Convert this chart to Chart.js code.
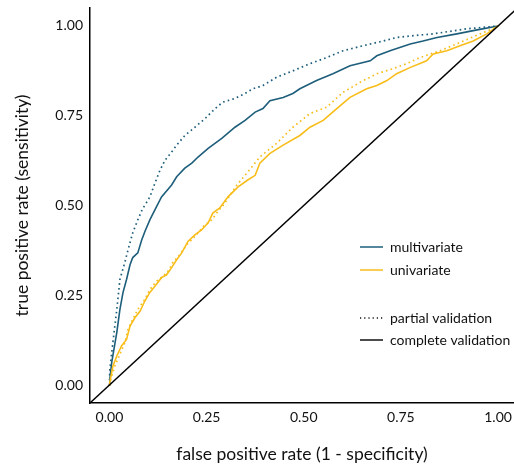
<!DOCTYPE html>
<html>
<head>
<meta charset="utf-8">
<script src="https://cdn.jsdelivr.net/npm/chart.js@4/dist/chart.umd.min.js"></script>
<style>
  html, body { margin: 0; padding: 0; background: #ffffff; overflow: hidden; }
  #wrap { width: 514px; height: 466px; }
</style>
</head>
<body>
<div id="wrap"><canvas id="roc" width="514" height="466"></canvas></div>
<script>
// ROC curves: false positive rate (x) vs true positive rate (y)
const multiCompleteFpr = [0, 0.001, 0.006, 0.019, 0.027, 0.035, 0.044, 0.053, 0.060, 0.073, 0.083, 0.091, 0.104, 0.117, 0.134, 0.160, 0.173, 0.194, 0.212, 0.228, 0.254, 0.289, 0.323, 0.349, 0.375, 0.395, 0.413, 0.447, 0.472, 0.490, 0.533, 0.575, 0.619, 0.671, 0.688, 0.722, 0.774, 0.807, 0.843, 0.894, 0.946, 1];
const multiCompleteTpr = [0, 0.017, 0.064, 0.147, 0.211, 0.258, 0.294, 0.335, 0.355, 0.368, 0.404, 0.427, 0.460, 0.488, 0.524, 0.557, 0.580, 0.604, 0.618, 0.635, 0.659, 0.687, 0.718, 0.737, 0.760, 0.770, 0.792, 0.801, 0.812, 0.825, 0.848, 0.867, 0.889, 0.903, 0.917, 0.931, 0.950, 0.958, 0.968, 0.978, 0.989, 1];

const multiPartialFpr = [0, 0.001, 0.009, 0.019, 0.027, 0.040, 0.048, 0.060, 0.073, 0.086, 0.091, 0.104, 0.117, 0.130, 0.143, 0.160, 0.173, 0.194, 0.220, 0.246, 0.272, 0.292, 0.323, 0.349, 0.369, 0.395, 0.430, 0.472, 0.516, 0.559, 0.601, 0.653, 0.704, 0.739, 0.773, 0.833, 0.919, 0.971, 1];
const multiPartialTpr = [0, 0.044, 0.119, 0.211, 0.294, 0.343, 0.377, 0.424, 0.460, 0.493, 0.500, 0.524, 0.562, 0.598, 0.626, 0.649, 0.668, 0.695, 0.718, 0.742, 0.770, 0.788, 0.798, 0.812, 0.825, 0.834, 0.857, 0.875, 0.895, 0.912, 0.931, 0.945, 0.958, 0.968, 0.972, 0.978, 0.992, 0.997, 1];

const uniCompleteFpr = [0, 0.001, 0.009, 0.019, 0.031, 0.044, 0.053, 0.066, 0.079, 0.091, 0.104, 0.117, 0.134, 0.147, 0.160, 0.173, 0.186, 0.202, 0.220, 0.237, 0.254, 0.266, 0.284, 0.305, 0.331, 0.356, 0.375, 0.387, 0.413, 0.447, 0.490, 0.516, 0.550, 0.585, 0.619, 0.662, 0.688, 0.714, 0.739, 0.773, 0.816, 0.833, 0.868, 0.902, 0.936, 0.971, 1];
const uniCompleteTpr = [0, 0.008, 0.053, 0.081, 0.109, 0.127, 0.164, 0.188, 0.206, 0.234, 0.258, 0.275, 0.299, 0.307, 0.327, 0.349, 0.368, 0.400, 0.418, 0.432, 0.452, 0.479, 0.493, 0.524, 0.552, 0.571, 0.584, 0.618, 0.645, 0.668, 0.695, 0.718, 0.737, 0.770, 0.801, 0.825, 0.834, 0.848, 0.867, 0.884, 0.903, 0.922, 0.931, 0.945, 0.958, 0.978, 1];

const uniPartialFpr = [0, 0.006, 0.014, 0.027, 0.040, 0.048, 0.060, 0.073, 0.091, 0.104, 0.121, 0.138, 0.151, 0.163, 0.181, 0.199, 0.220, 0.241, 0.263, 0.279, 0.297, 0.328, 0.362, 0.387, 0.430, 0.472, 0.516, 0.559, 0.601, 0.645, 0.688, 0.730, 0.765, 0.799, 0.851, 0.902, 0.954, 0.997, 1];
const uniPartialTpr = [0, 0.026, 0.053, 0.086, 0.119, 0.155, 0.183, 0.211, 0.238, 0.266, 0.289, 0.303, 0.317, 0.341, 0.363, 0.391, 0.414, 0.441, 0.460, 0.483, 0.507, 0.557, 0.601, 0.635, 0.673, 0.718, 0.756, 0.774, 0.815, 0.843, 0.867, 0.881, 0.895, 0.912, 0.931, 0.954, 0.978, 0.997, 1];

// chance line y = x across the whole panel
const chanceFpr = [-0.05, 1.05];
const chanceTpr = [-0.05, 1.05];

const tickValues = [0, 0.25, 0.5, 0.75, 1];
const tickLabels = ['0.00', '0.25', '0.50', '0.75', '1.00'];

const modelNames = ['multivariate', 'univariate'];
const validationNames = ['partial validation', 'complete validation'];

const TEAL = '#1d5e7b';
const GOLD = '#f8bd1a';
const INK = '#111111';
const FONT = 'Lato, "Open Sans", sans-serif';

function pts(xs, ys) { return xs.map((x, i) => ({ x: x, y: ys[i] })); }

const datasets = [
  { label: 'chance', data: pts(chanceFpr, chanceTpr), borderColor: '#000000', borderWidth: 1.4 },
  { label: 'univariate partial', data: pts(uniPartialFpr, uniPartialTpr), borderColor: GOLD, borderWidth: 1.7, borderDash: [1.6, 3.2] },
  { label: 'univariate complete', data: pts(uniCompleteFpr, uniCompleteTpr), borderColor: GOLD, borderWidth: 1.6 },
  { label: 'multivariate partial', data: pts(multiPartialFpr, multiPartialTpr), borderColor: TEAL, borderWidth: 1.7, borderDash: [1.6, 3.2] },
  { label: 'multivariate complete', data: pts(multiCompleteFpr, multiCompleteTpr), borderColor: TEAL, borderWidth: 1.6 }
];

// legend drawn inside the panel, two groups: colour and line type
const keyLegend = {
  id: 'keyLegend',
  afterDraw(chart) {
    const ctx = chart.ctx;
    const x0 = 360, x1 = 383, tx = 390;
    const rows = [
      { y: 247, color: TEAL, dash: [], text: modelNames[0] },
      { y: 270, color: GOLD, dash: [], text: modelNames[1] },
      { y: 318, color: INK, dash: [1.2, 3], text: validationNames[0] },
      { y: 340, color: INK, dash: [], text: validationNames[1] }
    ];
    ctx.save();
    ctx.font = '14px ' + FONT;
    ctx.textBaseline = 'middle';
    ctx.textAlign = 'left';
    rows.forEach(r => {
      ctx.beginPath();
      ctx.setLineDash(r.dash);
      ctx.strokeStyle = r.color;
      ctx.lineWidth = 1.5;
      ctx.moveTo(x0, r.y);
      ctx.lineTo(x1, r.y);
      ctx.stroke();
      ctx.setLineDash([]);
      ctx.fillStyle = INK;
      ctx.fillText(r.text, tx, r.y);
    });
    ctx.restore();
  }
};

function fixedTicks(scale) {
  scale.ticks = tickValues.map(v => ({ value: v }));
}
function tickText(value) {
  const i = tickValues.indexOf(value);
  return i >= 0 ? tickLabels[i] : '';
}

new Chart(document.getElementById('roc'), {
  type: 'line',
  data: { datasets: datasets },
  plugins: [keyLegend],
  options: {
    responsive: false,
    devicePixelRatio: 1,
    animation: false,
    elements: { point: { radius: 0 }, line: { tension: 0 } },
    layout: { padding: { top: 8, right: 0, bottom: 0, left: 0 } },
    plugins: { legend: { display: false }, tooltip: { enabled: false } },
    scales: {
      x: {
        type: 'linear',
        min: -0.05,
        max: 1.041,
        grid: { display: false, drawTicks: false },
        border: { display: true, color: '#000000', width: 1.5 },
        afterBuildTicks: fixedTicks,
        afterFit: s => { s.height = 63; s.paddingLeft = 0; s.paddingRight = 0; },
        ticks: { color: INK, font: { family: FONT, size: 14 }, padding: 6, maxRotation: 0, callback: tickText },
        title: { display: true, text: 'false positive rate (1 - specificity)', color: INK,
                 font: { family: FONT, size: 17.5 }, padding: { top: 0, bottom: 1 } }
      },
      y: {
        type: 'linear',
        min: -0.05,
        max: 1.05,
        grid: { display: false, drawTicks: false },
        border: { display: true, color: '#000000', width: 1.5 },
        afterBuildTicks: fixedTicks,
        afterFit: s => { s.width = 90; s.paddingTop = 0; s.paddingBottom = 0; },
        ticks: { color: INK, font: { family: FONT, size: 14 }, padding: 7, callback: tickText },
        title: { display: true, text: 'true positive rate (sensitivity)', color: INK,
                 font: { family: FONT, size: 17.5 }, padding: { top: 11.5, bottom: 0 } }
      }
    }
  }
});
</script>
</body>
</html>
